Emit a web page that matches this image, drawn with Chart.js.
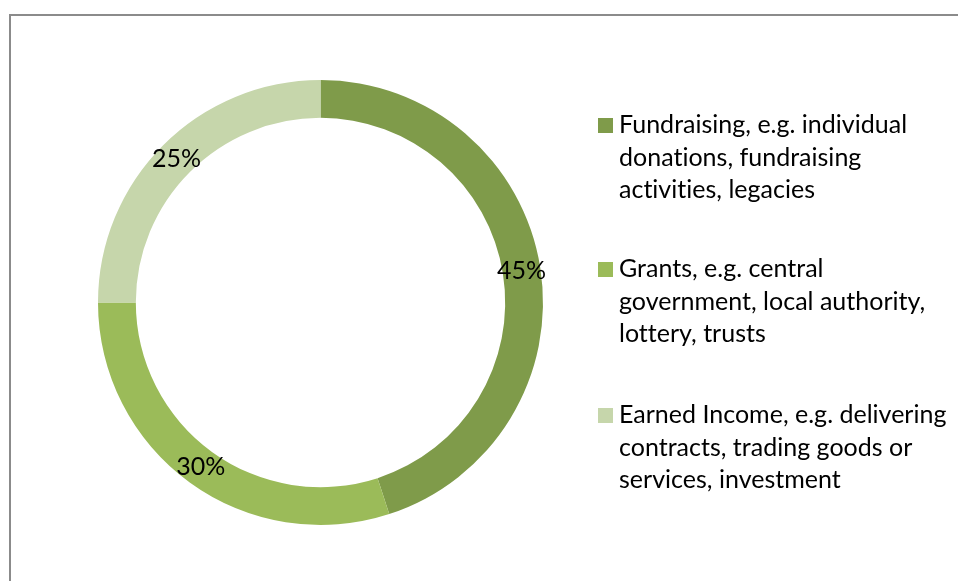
<!DOCTYPE html>
<html>
<head>
<meta charset="utf-8">
<script src="https://cdn.jsdelivr.net/npm/chart.js@4.4.1/dist/chart.umd.min.js"></script>
<style>
  html, body { margin: 0; padding: 0; background: #ffffff; }
  #wrap { width: 958px; height: 581px; position: relative; }
</style>
</head>
<body>
<div id="wrap"><canvas id="income"></canvas></div>
<script>
const categories = [
  "Fundraising, e.g. individual donations, fundraising activities, legacies",
  "Grants, e.g. central government, local authority, lottery, trusts",
  "Earned Income, e.g. delivering contracts, trading goods or services, investment",
];
// legend text as it wraps on screen
const legendLines = [
  ["Fundraising, e.g. individual", "donations, fundraising", "activities, legacies"],
  ["Grants, e.g. central", "government, local authority,", "lottery, trusts"],
  ["Earned Income, e.g. delivering", "contracts, trading goods or", "services, investment"],
];
const shares = [45, 30, 25];
const sliceColours = ["#7f9b4a", "#9bbb59", "#c6d6ab"];

const FONT = "Lato, 'Open Sans', sans-serif";
const TEXT_SIZE = 25;

function setTextStyle(ctx) {
  ctx.font = TEXT_SIZE + "px " + FONT;
  ctx.fillStyle = "#000000";
  // tiny spacing keeps Lato from joining "ti" into a ligature
  ctx.letterSpacing = "0.01px";
}

// grey frame round the chart
const framePlugin = {
  id: "frame",
  beforeDraw(chart) {
    const ctx = chart.ctx;
    ctx.save();
    ctx.strokeStyle = "#8b8b8b";
    ctx.lineWidth = 2;
    ctx.strokeRect(10, 15, chart.width + 20, chart.height + 20);
    ctx.restore();
  },
};

// percentage labels in the middle of each ring segment
const sliceLabelPlugin = {
  id: "sliceLabels",
  afterDatasetsDraw(chart) {
    const ctx = chart.ctx;
    const meta = chart.getDatasetMeta(0);
    const values = chart.data.datasets[0].data;
    ctx.save();
    setTextStyle(ctx);
    ctx.textAlign = "center";
    ctx.textBaseline = "middle";
    meta.data.forEach((arc, i) => {
      const p = arc.getCenterPoint();
      ctx.fillText(values[i] + "%", p.x, p.y);
    });
    ctx.restore();
  },
};

// legend on the right, each entry wrapped over three lines
const sideLegendPlugin = {
  id: "sideLegend",
  afterDraw(chart) {
    const ctx = chart.ctx;
    const colours = chart.data.datasets[0].backgroundColor;
    const left = 598;
    const box = 15;
    const textX = 619;
    const firstBaseline = [133, 277, 423];
    const lineHeight = 32.5;
    ctx.save();
    setTextStyle(ctx);
    ctx.textBaseline = "alphabetic";
    ctx.textAlign = "left";
    legendLines.forEach((lines, i) => {
      const y0 = firstBaseline[i];
      ctx.fillStyle = colours[i];
      ctx.fillRect(left, y0 - 15, box, box);
      ctx.fillStyle = "#000000";
      lines.forEach((line, j) => {
        ctx.fillText(line, textX, y0 + j * lineHeight);
      });
    });
    ctx.restore();
  },
};

new Chart(document.getElementById("income"), {
  type: "doughnut",
  data: {
    labels: categories,
    datasets: [
      {
        data: shares,
        backgroundColor: sliceColours,
        borderWidth: 0,
        hoverOffset: 0,
      },
    ],
  },
  options: {
    responsive: true,
    maintainAspectRatio: false,
    animation: false,
    cutout: "83%",
    layout: { padding: { left: 98, right: 415, top: 80, bottom: 56 } },
    plugins: {
      legend: { display: false },
      tooltip: { enabled: false },
    },
  },
  plugins: [framePlugin, sliceLabelPlugin, sideLegendPlugin],
});
</script>
</body>
</html>
